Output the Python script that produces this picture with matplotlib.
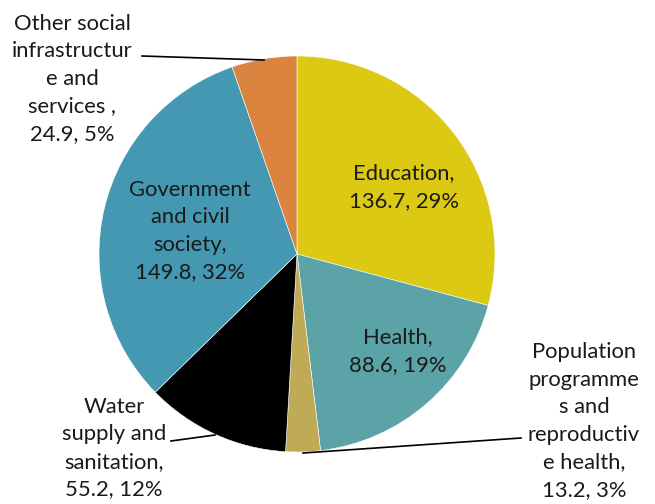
import matplotlib
matplotlib.use("Agg")
import matplotlib.pyplot as plt

categories = ["Education", "Health", "Population programmes and reproductive health",
              "Water supply and sanitation", "Government and civil society",
              "Other social infrastructure and services "]
values = [136.7, 88.6, 13.2, 55.2, 149.8, 24.9]
label_texts = [
    "Education,\n136.7, 29%",
    "Health,\n88.6, 19%",
    "Population\nprogramme\ns and\nreproductiv\ne health,\n13.2, 3%",
    "Water\nsupply and\nsanitation,\n55.2, 12%",
    "Government\nand civil\nsociety,\n149.8, 32%",
    "Other social\ninfrastructur\ne and\nservices ,\n24.9, 5%",
]
colors = ["#DCC914", "#5BA3A6", "#BFAA55", "#000000", "#4498B1", "#DB8440"]

W, H = 655, 504
fig = plt.figure(figsize=(W / 100, H / 100), dpi=100)
ax = fig.add_axes([0, 0, 1, 1])

cx, cy, r = 297, H - 254, 198
ax.pie(values, colors=colors, startangle=90, counterclock=False,
       center=(cx, cy), radius=r, frame=True,
       wedgeprops=dict(edgecolor="white", linewidth=0.4))
ax.set_xlim(0, W)
ax.set_ylim(0, H)
ax.set_aspect("equal")
ax.axis("off")

font = dict(family="Lato", fontsize=15.8, color="#1a1a1a", ha="center", va="center",
            linespacing=1.47)
# label centres (pixel coords from top)
pos = [(404, 187), (398, 351), (584, 421), (114, 448), (190, 231), (72, 79)]
for t, (x, y) in zip(label_texts, pos):
    ax.text(x, H - y, t, **font)

# leader lines
ax.plot([264, 142], [H - 60, H - 56], color="black", lw=1.2)
ax.plot([303, 521], [H - 453, H - 438], color="black", lw=1.2)
ax.plot([215, 171], [H - 435, H - 441], color="black", lw=1.2)

fig.savefig("out.png", dpi=100)
